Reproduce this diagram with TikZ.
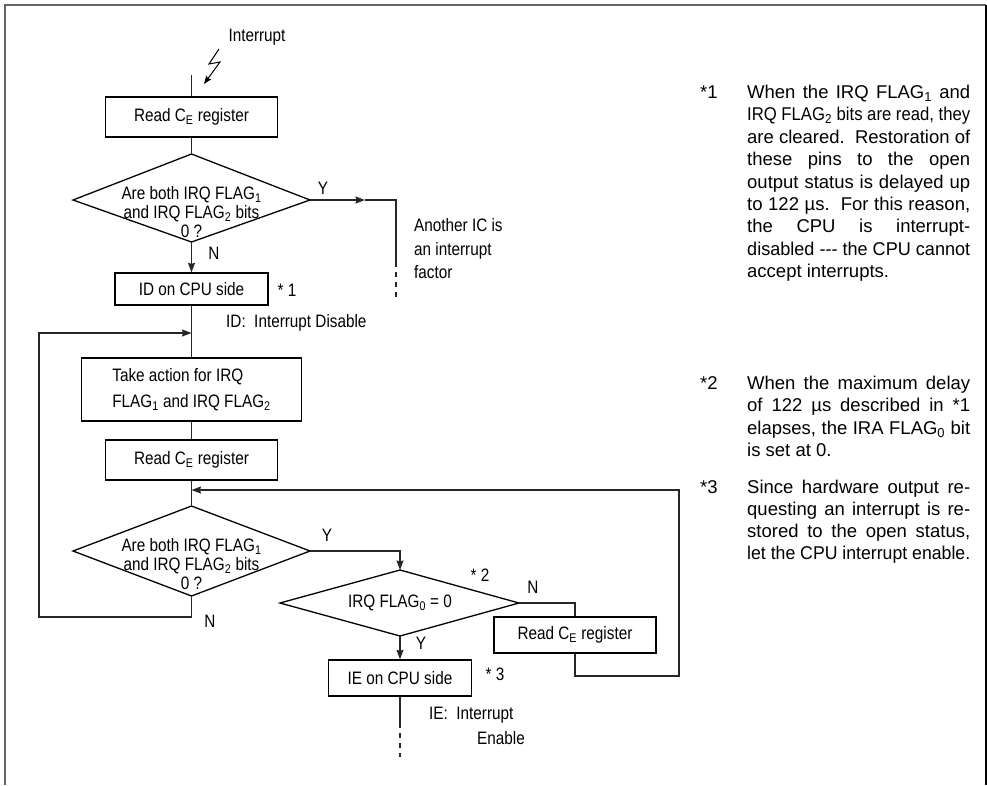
\documentclass[tikz,border=0pt]{standalone}
\usepackage{fontspec}
\usepackage{graphicx}
\usetikzlibrary{arrows.meta}
\setmainfont{Liberation Sans}
\newfontfamily\condfont[FakeStretch=0.85]{Liberation Sans}
\newcommand\cf{\condfont\fontsize{18}{23.5}\selectfont}
\newcommand\df{\condfont\fontsize{18}{19}\selectfont}
\newcommand\nf{\normalfont\fontsize{18.5}{22.4}\selectfont}
\newlength\nlw
\newcommand\jline[1]{\settowidth\nlw{#1}\ifdim\nlw>223pt\relax\edef\jfac{\fpeval{223pt/\nlw}}\scalebox{\jfac}[1]{#1}\else\makebox[223pt][s]{#1}\fi}
\tikzset{
  flow/.style={line width=1.3pt, draw=black!85},
  arr/.style={flow, -{Stealth[length=9.5pt,width=7pt,inset=1pt]}},
  shapeline/.style={line width=1.3pt, draw=black},
  box/.style={draw=black, line width=1.3pt, inner sep=0pt, font=\cf, align=center},
  dtext/.style={inner sep=0pt, font=\df, align=center},
  lbl/.style={inner sep=0pt, font=\cf},
  note/.style={inner sep=0pt, font=\nf, anchor=base west},
}
\begin{document}
\begin{tikzpicture}[x=1pt,y=-1pt]
\useasboundingbox (0,0) rectangle (987,785);
% frame
\draw[line width=2.2pt, draw=black!60] (5,785) -- (5,5) -- (986,5);
\draw[line width=1.8pt, draw=black] (986,5) -- (986,785);

% nodes
\node[box, minimum width=172pt, minimum height=40pt] (r1) at (191.5,117) {Read C\textsubscript{E} register};
\coordinate (d1t) at (191.5,154);
\coordinate (d1r) at (310,200);
\coordinate (d1b) at (191.5,242);
\coordinate (d1l) at (73,200);
\draw[shapeline] (d1t) -- (d1r) -- (d1b) -- (d1l) -- cycle;
\node[dtext] (d1x) at (191.5,212) {Are both IRQ FLAG\textsubscript{1}\\and IRQ FLAG\textsubscript{2} bits\\0 ?};
\node[box, minimum width=153pt, minimum height=32pt] (id) at (191.5,289) {ID on CPU side};
\node[box, minimum width=220pt, minimum height=63pt, align=left, font=\condfont\fontsize{18}{26}\selectfont] (act) at (191.5,389.5) {Take action for IRQ\\FLAG\textsubscript{1} and IRQ FLAG\textsubscript{2}};
\node[box, minimum width=172pt, minimum height=40pt] (r2) at (191.5,460) {Read C\textsubscript{E} register};
\coordinate (d2t) at (191.5,506);
\coordinate (d2r) at (310,551);
\coordinate (d2b) at (191.5,596);
\coordinate (d2l) at (73,551);
\draw[shapeline] (d2t) -- (d2r) -- (d2b) -- (d2l) -- cycle;
\node[dtext] (d2x) at (191.5,564) {Are both IRQ FLAG\textsubscript{1}\\and IRQ FLAG\textsubscript{2} bits\\0 ?};
\coordinate (d3t) at (400,570);
\coordinate (d3r) at (519,603);
\coordinate (d3b) at (400,636);
\coordinate (d3l) at (280,603);
\draw[shapeline] (d3t) -- (d3r) -- (d3b) -- (d3l) -- cycle;
\node[dtext] (d3x) at (400,603) {IRQ FLAG\textsubscript{0} = 0};
\node[box, minimum width=162pt, minimum height=36pt] (r3) at (575,635) {Read C\textsubscript{E} register};
\node[box, minimum width=143pt, minimum height=36pt] (ie) at (400,678) {IE on CPU side};

% labels
\node[lbl] (intr) at (257,37) {Interrupt};
\node[lbl] (y1) at (323,188) {Y};
\node[lbl] (n1) at (214,253) {N};
\node[lbl, align=left, anchor=west, font=\cf] (another) at (414,249) {Another IC is\\an interrupt\\factor};
\node[lbl] (s1) at (287,290) {* 1};
\node[lbl, anchor=west] (idl) at (226,323) {ID:\ \ Interrupt Disable};
\node[lbl] (y2) at (327,535) {Y};
\node[lbl] (n2) at (210,621) {N};
\node[lbl] (s2) at (480,575) {* 2};
\node[lbl] (n3) at (533,587) {N};
\node[lbl] (y3) at (421,643) {Y};
\node[lbl] (s3) at (495,674) {* 3};
\node[lbl, anchor=west] (iel1) at (429,715) {IE:\ \ Interrupt};
\node[lbl, anchor=west] (iel2) at (477,738) {Enable};

% connectors
\coordinate (top) at (191.5,75);
\draw[flow] (top) -- (r1.north);
\coordinate (z1) at (219,49);
\coordinate (z2) at (209,64);
\coordinate (z3) at (220,62);
\coordinate (z4) at (204,84);
\draw[line width=1pt, -{Stealth[length=8pt,width=6pt,inset=1pt]}] (z1) -- (z2) -- (z3) -- (z4);
\draw[flow] (r1.south) -- (d1t);
\coordinate (a1) at (365,200);
\coordinate (c1) at (396,200);
\coordinate (c2) at (396,262);
\coordinate (c3) at (396,298);
\draw[arr] (d1r) -- (a1);
\draw[flow] (a1) -- (c1) -- (c2);
\draw[flow, dash pattern=on 5pt off 5pt] (c2) -- (c3);
\draw[arr] (d1b) -- (id.north);
\draw[flow] (id.south) -- (act.north);
\coordinate (m1) at (191.5,333);
\coordinate (l1) at (191.5,617);
\coordinate (l2) at (39,617);
\coordinate (l3) at (39,333);
\draw[arr] (d2b) -- (l1) -- (l2) -- (l3) -- (m1);
\draw[flow] (act.south) -- (r2.north);
\draw[flow] (r2.south) -- (d2t);
\coordinate (m2) at (191.5,490);
\coordinate (e1) at (400,551);
\draw[arr] (d2r) -- (e1) -- (d3t);
\coordinate (f1) at (575,603);
\draw[flow] (d3r) -- (f1) -- (r3.north);
\coordinate (g1) at (575,676);
\coordinate (g2) at (679,676);
\coordinate (g3) at (679,490);
\draw[arr] (r3.south) -- (g1) -- (g2) -- (g3) -- (m2);
\draw[arr] (d3b) -- (ie.north);
\coordinate (h1) at (400,723);
\coordinate (h2) at (400,757);
\draw[flow] (ie.south) -- (h1);
\draw[flow, dash pattern=on 5pt off 5pt] (h1) -- (h2);

% notes
\node[note] (k1) at (700,98.5) {*1};
\node[note] (k1a) at (747,98.5) {\jline{When the IRQ FLAG\textsubscript{1} and}};
\node[note] (k1b) at (747,120.9) {\jline{IRQ FLAG\textsubscript{2} bits are read, they}};
\node[note] (k1c) at (747,143.3) {\jline{are cleared.\ \ Restoration of}};
\node[note] (k1d) at (747,165.7) {\jline{these pins to the open}};
\node[note] (k1e) at (747,188.1) {\jline{output status is delayed up}};
\node[note] (k1f) at (747,210.5) {\jline{to 122 µs.\ \ For this reason,}};
\node[note] (k1g) at (747,232.9) {\jline{the CPU is interrupt-}};
\node[note] (k1h) at (747,255.3) {\jline{disabled -{}-{}- the CPU cannot}};
\node[note] (k1i) at (747,277.7) {accept interrupts.};

\node[note] (k2) at (700,389.5) {*2};
\node[note] (k2a) at (747,389.5) {\jline{When the maximum delay}};
\node[note] (k2b) at (747,411.8) {\jline{of 122 µs described in *1}};
\node[note] (k2c) at (747,434.1) {\jline{elapses, the IRA FLAG\textsubscript{0} bit}};
\node[note] (k2d) at (747,456.4) {is set at 0.};

\node[note] (k3) at (700,493.5) {*3};
\node[note] (k3a) at (747,493.5) {\jline{Since hardware output re-}};
\node[note] (k3b) at (747,515.5) {\jline{questing an interrupt is re-}};
\node[note] (k3c) at (747,537.5) {\jline{stored to the open status,}};
\node[note] (k3d) at (747,559.5) {\jline{let the CPU interrupt enable.}};
\end{tikzpicture}
\end{document}
